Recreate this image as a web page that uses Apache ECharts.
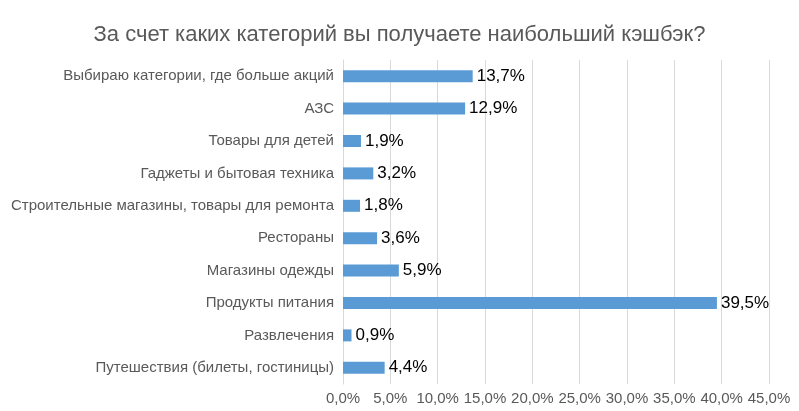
<!DOCTYPE html>
<html>
<head>
<meta charset="utf-8">
<script src="https://cdn.jsdelivr.net/npm/echarts@6/dist/echarts.min.js"></script>
<style>
	html, body { margin: 0; padding: 0; background: #fff; }
	#chart { width: 799px; height: 411px; }
</style>
</head>
<body>
<div id="chart"></div>
<script>
	// категории сверху вниз
	var categories = [
		'Выбираю категории, где больше акций',
		'АЗС',
		'Товары для детей',
		'Гаджеты и бытовая техника',
		'Строительные магазины, товары для ремонта',
		'Рестораны',
		'Магазины одежды',
		'Продукты питания',
		'Развлечения',
		'Путешествия (билеты, гостиницы)'
	];
	var values = [13.7, 12.9, 1.9, 3.2, 1.8, 3.6, 5.9, 39.5, 0.9, 4.4];
	var xTicks = [0, 5, 10, 15, 20, 25, 30, 35, 40, 45];

	function pct(v) {
		return v.toFixed(1).replace('.', ',') + '%';
	}

	var font = 'Liberation Sans, sans-serif';
	var myChart = echarts.init(document.getElementById('chart'));
	myChart.setOption({
		animation: false,
		textStyle: { fontFamily: font },
		title: {
			text: 'За счет каких категорий вы получаете наибольший кэшбэк?',
			left: 'center',
			top: 19,
			textStyle: {
				color: '#595959',
				fontSize: 22,
				fontWeight: 'normal',
				fontFamily: font
			}
		},
		grid: {
			left: 343,
			right: 30,
			top: 60,
			bottom: 27
		},
		xAxis: {
			type: 'value',
			min: xTicks[0],
			max: xTicks[xTicks.length - 1],
			interval: 5,
			axisLine: { show: false },
			axisTick: { show: false },
			axisLabel: {
				color: '#595959',
				fontSize: 15,
				margin: 7,
				formatter: function (v) { return pct(v); }
			},
			splitLine: { show: true, lineStyle: { color: '#d9d9d9' } }
		},
		yAxis: {
			type: 'category',
			inverse: true,
			data: categories,
			axisLine: { show: true, lineStyle: { color: '#d9d9d9' } },
			axisTick: { show: false },
			axisLabel: { color: '#595959', fontSize: 15, margin: 9 }
		},
		series: [{
			type: 'bar',
			data: values,
			barWidth: 12,
			itemStyle: { color: '#5b9bd5' },
			label: {
				show: true,
				position: 'right',
				distance: 4,
				color: '#000',
				fontSize: 17,
				formatter: function (p) { return pct(p.value); }
			}
		}]
	});
</script>
</body>
</html>
